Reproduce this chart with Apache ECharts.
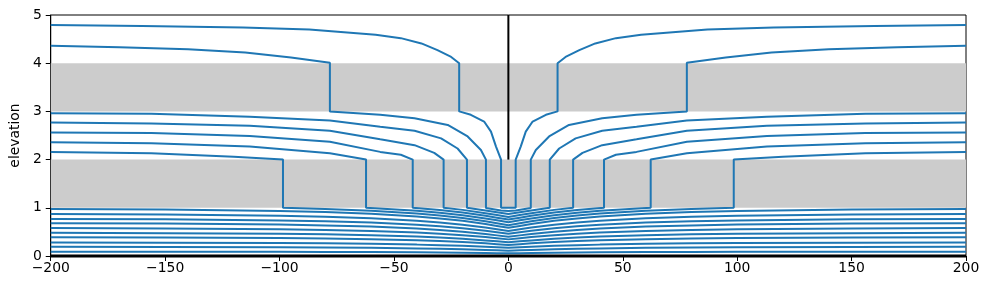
<!DOCTYPE html>
<html>
<head>
  <meta charset="utf-8">
  <title>Flow net</title>
  <script src="https://cdn.jsdelivr.net/npm/echarts@6/dist/echarts.min.js"></script>
  <style>
    html, body { margin: 0; padding: 0; background: #fff; }
  </style>
</head>
<body>
  <div id="chart" style="width: 989px; height: 290px;"></div>
  <script>
    // axis ticks
    var xTicks = [-200, -150, -100, -50, 0, 50, 100, 150, 200];
    var yTicks = [0, 1, 2, 3, 4, 5];

    // gray layers (elevation ranges)
    var bands = [[1, 2], [3, 4]];

    // sheet pile (x, bottom, top) and base
    var wall = [[0, 2], [0, 5]];
    var base = [[-200, 0], [200, 0]];

    // streamlines passing under the wall, left half only (the picture is symmetric)
    var lineA = [[-200, 4.79], [-160, 4.77], [-116, 4.74], [-87, 4.70], [-58, 4.59], [-47, 4.52],
      [-38, 4.41], [-31, 4.27], [-25, 4.13], [-21.5, 4.0], [-21.5, 3.0], [-16.4, 2.93],
      [-10.6, 2.79], [-7.6, 2.58], [-5.4, 2.27], [-3.2, 2.0], [-3.2, 1.0], [0, 1.0]];
    var lineB = [[-200, 4.36], [-170, 4.33], [-140, 4.29], [-115, 4.22], [-95, 4.12], [-78, 4.01],
      [-78, 3.0], [-56, 2.93], [-41, 2.86], [-26.5, 2.72], [-17.8, 2.48], [-12, 2.2],
      [-9.8, 2.0], [-9.8, 0.995], [-3.2, 0.945], [0, 0.935]];
    var lineC = [[-200, 2.96], [-156, 2.95], [-113, 2.89], [-78, 2.81], [-56, 2.68], [-41, 2.60],
      [-29.4, 2.44], [-22.2, 2.23], [-18.1, 2.0], [-18.1, 1.0], [-10, 0.946], [-5, 0.908], [0, 0.87]];
    var lineD = [[-200, 2.77], [-156, 2.75], [-113, 2.70], [-78, 2.60], [-56, 2.42], [-41, 2.30],
      [-32.4, 2.14], [-28.3, 2.0], [-28.3, 1.0], [-20, 0.957], [-10, 0.889], [-5, 0.85], [0, 0.81]];
    var lineE = [[-200, 2.56], [-156, 2.55], [-113, 2.49], [-78, 2.37], [-56, 2.16], [-47, 2.10],
      [-41.8, 2.0], [-41.8, 1.0], [-30, 0.956], [-20, 0.904], [-10, 0.835], [-5, 0.795], [0, 0.755]];
    var lineF = [[-200, 2.36], [-156, 2.34], [-113, 2.27], [-78, 2.13], [-62.2, 2.0], [-62.2, 1.0],
      [-40, 0.937], [-30, 0.897], [-20, 0.846], [-10, 0.779], [-5, 0.74], [0, 0.70]];
    var lineG = [[-200, 2.16], [-156, 2.13], [-120, 2.06], [-98.5, 2.0], [-98.5, 1.0], [-80, 0.976],
      [-60, 0.94], [-40, 0.88], [-30, 0.84], [-20, 0.788], [-10, 0.72], [-5, 0.68], [0, 0.64]];

    // streamlines staying in the bottom layer, left half
    var bottomX = [-200, -150, -100, -80, -60, -40, -30, -20, -10, -5, 0];
    var bottom1 = [0.975, 0.963, 0.935, 0.911, 0.877, 0.817, 0.778, 0.729, 0.663, 0.624, 0.585];
    var bottom2 = [0.87, 0.86, 0.835, 0.814, 0.783, 0.73, 0.695, 0.65, 0.59, 0.555, 0.52];
    var bottom3 = [0.77, 0.761, 0.739, 0.72, 0.693, 0.646, 0.615, 0.575, 0.522, 0.491, 0.46];
    var bottom4 = [0.68, 0.672, 0.652, 0.635, 0.61, 0.568, 0.54, 0.504, 0.456, 0.428, 0.40];
    var bottom5 = [0.58, 0.573, 0.557, 0.542, 0.521, 0.486, 0.463, 0.432, 0.392, 0.369, 0.345];
    var bottom6 = [0.48, 0.474, 0.46, 0.449, 0.431, 0.402, 0.383, 0.357, 0.324, 0.305, 0.285];
    var bottom7 = [0.39, 0.385, 0.374, 0.364, 0.35, 0.326, 0.31, 0.289, 0.262, 0.246, 0.23];
    var bottom8 = [0.28, 0.277, 0.269, 0.262, 0.253, 0.236, 0.225, 0.211, 0.192, 0.181, 0.17];
    var bottom9 = [0.19, 0.188, 0.182, 0.177, 0.17, 0.158, 0.15, 0.14, 0.126, 0.118, 0.11];
    var bottom10 = [0.09, 0.089, 0.087, 0.084, 0.081, 0.076, 0.073, 0.068, 0.062, 0.059, 0.055];

    // mirror a left half onto the right side
    function mirrored(half) {
      var right = [];
      for (var i = half.length - 1; i >= 0; i--) {
        if (half[i][0] === 0) continue;
        right.push([-half[i][0], half[i][1]]);
      }
      return half.concat(right);
    }

    function zipX(ys) {
      var pts = [];
      for (var i = 0; i < ys.length; i++) pts.push([bottomX[i], ys[i]]);
      return pts;
    }

    var streamlines = [lineA, lineB, lineC, lineD, lineE, lineF, lineG,
      zipX(bottom1), zipX(bottom2), zipX(bottom3), zipX(bottom4), zipX(bottom5),
      zipX(bottom6), zipX(bottom7), zipX(bottom8), zipX(bottom9), zipX(bottom10)];

    var font = 'DejaVu Sans';
    var minus = function (v) { return String(v).replace('-', '\u2212'); };

    var series = [{
      type: 'line',
      data: [],
      z: 1,
      silent: true,
      markArea: {
        silent: true,
        itemStyle: { color: '#cccccc' },
        data: bands.map(function (b) {
          return [{ xAxis: xTicks[0], yAxis: b[0] }, { xAxis: xTicks[xTicks.length - 1], yAxis: b[1] }];
        })
      }
    }];

    streamlines.forEach(function (half) {
      series.push({
        type: 'line',
        data: mirrored(half),
        showSymbol: false,
        z: 3,
        lineStyle: { color: '#1f77b4', width: 2 }
      });
    });

    series.push({
      type: 'line', data: wall, showSymbol: false, z: 4,
      lineStyle: { color: '#000', width: 2 }
    });
    series.push({
      type: 'line', data: base, showSymbol: false, z: 4, clip: false,
      lineStyle: { color: '#000', width: 3 }
    });

    var chart = echarts.init(document.getElementById('chart'));
    chart.setOption({
      animation: false,
      grid: { left: 49, right: 23, top: 15, bottom: 34, show: true, borderColor: '#000', borderWidth: 1 },
      xAxis: {
        type: 'value', min: xTicks[0], max: xTicks[xTicks.length - 1], interval: 50,
        axisLine: { show: true, onZero: false, lineStyle: { color: '#000', width: 1 } },
        axisTick: { show: true, inside: false, length: 5, lineStyle: { color: '#000' } },
        axisLabel: { color: '#000', fontFamily: font, fontSize: 13.9, margin: 5, formatter: minus },
        splitLine: { show: false }
      },
      yAxis: {
        type: 'value', min: yTicks[0], max: yTicks[yTicks.length - 1], interval: 1,
        name: 'elevation', nameLocation: 'middle', nameGap: 23,
        nameTextStyle: { color: '#000', fontFamily: font, fontSize: 13.9 },
        axisLine: { show: true, onZero: false, lineStyle: { color: '#000', width: 1 } },
        axisTick: { show: true, inside: false, length: 5, lineStyle: { color: '#000' } },
        axisLabel: { color: '#000', fontFamily: font, fontSize: 13.9, margin: 9 },
        splitLine: { show: false }
      },
      series: series
    });
  </script>
</body>
</html>
